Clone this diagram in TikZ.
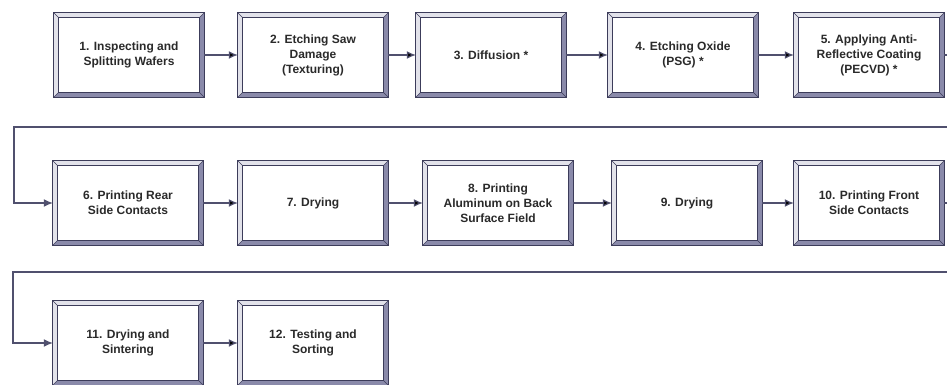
\documentclass[tikz,border=0pt]{standalone}
\usepackage{fontspec}
\setmainfont{Liberation Sans}
\usetikzlibrary{arrows.meta,calc,backgrounds}
\definecolor{frameline}{HTML}{3C3C5A}
\definecolor{bevellight}{HTML}{E2E2EA}
\definecolor{beveldark}{HTML}{8A8AAA}
\definecolor{flowline}{HTML}{50506E}
\definecolor{labeltext}{HTML}{2A2A2A}
\begin{document}
\begin{tikzpicture}[x=1pt,y=-1pt,
                       step box/.style={rectangle,minimum width=150pt,minimum height=84pt,
                         inner sep=0pt,align=center,text=labeltext,
                         font=\fontsize{12}{15}\selectfont\bfseries},
                       flow/.style={draw=flowline,line width=1.2pt,-{Latex[length=9pt,width=8pt]}}
                      ]
  \useasboundingbox (0,0) rectangle (947,384);
  \clip (0,0) rectangle (947,384);
  \node[step box] (b1) at (129,55) {1. Inspecting and\\Splitting Wafers};
  \node[step box] (b2) at (313,55) {2. Etching Saw\\Damage\\(Texturing)};
  \node[step box] (b3) at (491,55) {3. Diffusion *};
  \node[step box] (b4) at (683,55) {4. Etching Oxide\\(PSG) *};
  \node[step box] (b5) at (869,55) {5. Applying Anti-\\Reflective Coating\\(PECVD) *};
  \node[step box] (b6) at (128,203) {6. Printing Rear\\Side Contacts};
  \node[step box] (b7) at (313,203) {7. Drying};
  \node[step box] (b8) at (498,203) {8. Printing\\Aluminum on Back\\Surface Field};
  \node[step box] (b9) at (687,203) {9. Drying};
  \node[step box] (b10) at (869,203) {10. Printing Front\\Side Contacts};
  \node[step box] (b11) at (128,343) {11. Drying and\\Sintering};
  \node[step box] (b12) at (313,343) {12. Testing and\\Sorting};

  % bevelled frames behind the labels
  \begin{scope}[on background layer]
  \foreach \n in {b1,b2,b3,b4,b5,b6,b7,b8,b9,b10,b11,b12} {
    \fill[beveldark] (\n.north west) rectangle (\n.south east);
    \fill[bevellight] (\n.south west) -- (\n.north west) -- (\n.north east)
      -- ($(\n.north east)+(-5,5)$) -- ($(\n.north west)+(5,5)$)
      -- ($(\n.south west)+(5,-5)$) -- cycle;
    \draw[frameline,line width=0.6pt] (\n.north west) -- ($(\n.north west)+(5,5)$)
      (\n.north east) -- ($(\n.north east)+(-5,5)$)
      (\n.south west) -- ($(\n.south west)+(5,-5)$)
      (\n.south east) -- ($(\n.south east)+(-5,-5)$);
    \draw[frameline,fill=white,line width=0.9pt] ($(\n.north west)+(5,5)$) rectangle ($(\n.south east)+(-5,-5)$);
    \draw[frameline,line width=1.1pt] (\n.north west) rectangle (\n.south east);
  }
  \end{scope}

  \coordinate (r1) at (14,127);
  \coordinate (r2) at (13,272);

  \path[flow]
   (b1) edge (b2)
   (b2) edge (b3)
   (b3) edge (b4)
   (b4) edge (b5)
   (b6) edge (b7)
   (b7) edge (b8)
   (b8) edge (b9)
   (b9) edge (b10)
   (b11) edge (b12);
  \draw[flow] (b5.east) -- ++(12,0) |- (r1) |- (b6.west);
  \draw[flow] (b10.east) -- ++(12,0) |- (r2) |- (b11.west);
 \end{tikzpicture}
\end{document}
